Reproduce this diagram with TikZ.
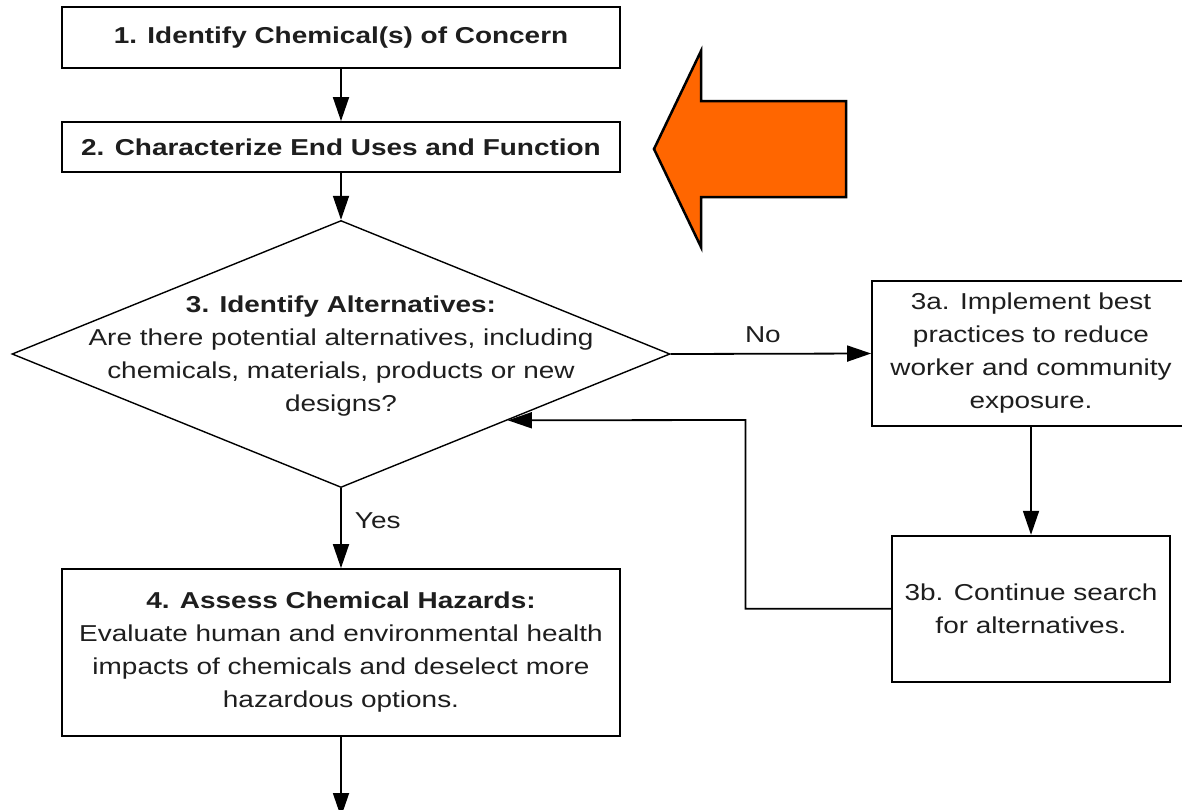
\documentclass[tikz,border=0pt]{standalone}
\usepackage{fontspec}
\newfontfamily\diagfont{Liberation Sans}[FakeStretch=1.215]
\usetikzlibrary{arrows.meta,shapes.geometric,calc}
\definecolor{arroworange}{HTML}{FF6600}
\definecolor{txt}{HTML}{1E1E1E}
\begin{document}
\begin{tikzpicture}[x=1pt,y=-1pt,
  font=\diagfont\fontsize{23}{33}\selectfont,
  box/.style={draw, line width=1.8pt, inner sep=0pt, align=center, text=txt},
  lbl/.style={text=txt, inner sep=0pt},
  conn/.style={line width=1.8pt, -{Triangle[length=24pt,width=16pt]}},
  ]
\clip (0,0) rectangle (1182,809);
\fill[white] (0,0) rectangle (1182,809);

% boxes
\node[box, minimum width=558pt, minimum height=61pt] (b1) at (341,37.5)
  {\bfseries 1. Identify Chemical(s) of Concern};
\node[box, minimum width=558pt, minimum height=50pt] (b2) at (341,147)
  {\bfseries 2. Characterize End Uses and Function};
\node[diamond, draw, line width=1.4pt, minimum width=658pt, minimum height=267pt, inner sep=0pt] (d) at (341,354) {};
\node[align=center, text=txt, inner sep=0pt] (dt) at (341,356)
  {{\bfseries 3. Identify Alternatives:}\\Are there potential alternatives, including\\chemicals, materials, products or new\\designs?};
\node[box, minimum width=558pt, minimum height=167pt] (b4) at (341,652.5)
  {{\bfseries 4. Assess Chemical Hazards:}\\Evaluate human and environmental health\\impacts of chemicals and deselect more\\hazardous options.};
\node[box, minimum width=318pt, minimum height=145pt] (b3a) at (1031,353.5)
  {3a. Implement best\\practices to reduce\\worker and community\\exposure.};
\node[box, minimum width=278pt, minimum height=146pt] (b3b) at (1031,608.7)
  {3b. Continue search\\for alternatives.};

% connectors
\draw[conn] (b1.south) -- (b2.north);
\draw[conn] (b2.south) -- (d.north);
\draw[conn] (d.east) -- node[lbl, pos=0.46, anchor=base, yshift=11pt] {No} (b3a.west);
\draw[conn] (d.south) -- node[lbl, pos=0.5, anchor=base west, xshift=13pt] {Yes} (b4.north);
\draw[conn] (b3a.south) -- (b3b.north);
\coordinate (bend) at (745.5,420);
\coordinate (entry) at ($(d.east)!0.494!(d.south)$);
\draw[conn] (b3b.west) -| (bend) -- (entry);
\coordinate (out) at (341,817);
\draw[conn] (b4.south) -- (out);

% orange arrow
\draw[fill=arroworange, line width=2.5pt, line join=miter]
  (654,149) -- (701,51) -- (701,101) -- (846,101) -- (846,197) -- (701,197) -- (701,247) -- cycle;
\end{tikzpicture}
\end{document}
